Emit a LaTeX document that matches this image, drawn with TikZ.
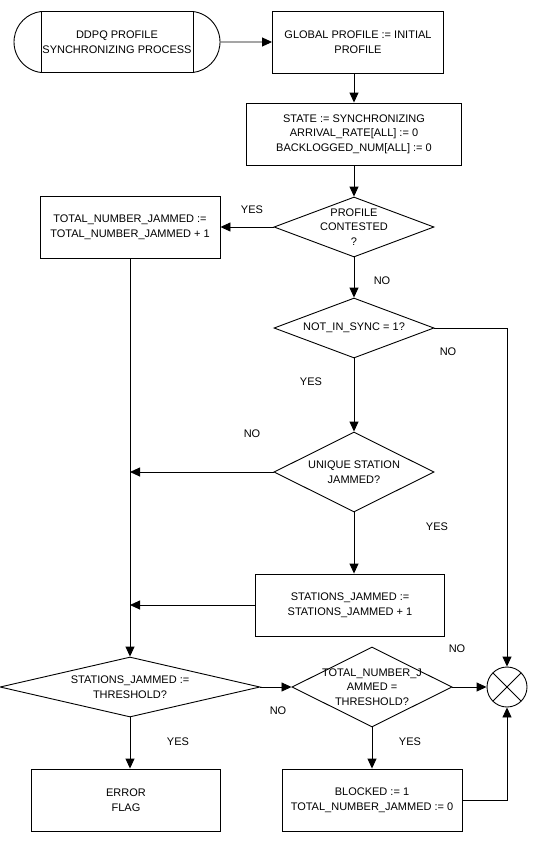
\documentclass[tikz,border=0pt]{standalone}
\usepackage{fontspec}
\setmainfont{Liberation Sans}
\usetikzlibrary{shapes.geometric,shapes.misc,arrows.meta}

\begin{document}
\begin{tikzpicture}[x=1pt, y=1pt, line width=0.9pt, >={Triangle[length=10pt,width=9pt]},
  every node/.style = {font=\fontsize{11}{14.5}\selectfont},
  term/.style = {draw, rounded rectangle, rounded rectangle arc length=166, minimum width=206pt, minimum height=61pt, inner sep=0pt, align=center},
  proc/.style = {draw, rectangle, minimum height=62pt, inner sep=2pt, align=center},
  dec/.style = {draw, diamond, shape aspect=2.67, inner sep=0pt, minimum width=160pt, minimum height=60pt, align=center},
  sum/.style = {draw, circle, minimum size=40pt, inner sep=0pt, path picture={
    \draw (path picture bounding box.north west) -- (path picture bounding box.south east)
          (path picture bounding box.south west) -- (path picture bounding box.north east);}},
  lbl/.style = {inner sep=0pt}]
\useasboundingbox (0,0) rectangle (543,-849);

\node[proc, minimum width=215pt] (3) at (354,-134) {STATE := SYNCHRONIZING\\ARRIVAL\_RATE[ALL] := 0\\BACKLOGGED\_NUM[ALL] := 0};
\node[proc, minimum width=171pt] (2) [above of=3, node distance=92pt, xshift=4pt] {GLOBAL PROFILE := INITIAL\\PROFILE};
\node[term] (1) [left of=2, node distance=241pt] {DDPQ PROFILE\\SYNCHRONIZING PROCESS};
\draw (1.north west) -- (1.south west) (1.north east) -- (1.south east);
\node[dec, inner sep=-3pt] (4) [below of=3, node distance=93pt] {PROFILE\\CONTESTED\\?};
\node[proc, minimum width=180pt] (5) [left of=4, node distance=224pt] {TOTAL\_NUMBER\_JAMMED :=\\TOTAL\_NUMBER\_JAMMED + 1};
\node[dec] (6) [below of=4, node distance=101pt] {NOT\_IN\_SYNC = 1?};
\node[dec, shape aspect=2, minimum height=80pt] (7) [below of=6, node distance=144pt] {UNIQUE STATION\\JAMMED?};
\node[proc, minimum width=189pt] (8) [below of=7, node distance=133pt, xshift=-4pt] {STATIONS\_JAMMED :=\\STATIONS\_JAMMED + 1};
\node[dec, shape aspect=4.33, minimum width=260pt] (9) [below of=5, node distance=460pt] {STATIONS\_JAMMED :=\\THRESHOLD?};
\node[dec, shape aspect=2, minimum height=80pt, inner sep=-4pt] (10) [right of=9, node distance=242pt] {TOTAL\_NUMBER\_J\\AMMED =\\THRESHOLD?};
\node[sum] (11) [right of=10, node distance=135pt] {};
\node[proc, minimum width=189pt] (12) [below of=9, node distance=113pt, xshift=-4pt] {ERROR\\FLAG};
\node[proc, minimum width=180pt] (13) [below of=10, node distance=113pt] {BLOCKED := 1\\TOTAL\_NUMBER\_JAMMED := 0};

\node[lbl] (yes1) at (252,-210) {YES};
\node[lbl] (no1) at (382,-281) {NO};
\node[lbl] (no2) at (448,-352) {NO};
\node[lbl] (yes2) at (311,-382) {YES};
\node[lbl] (no3) at (252,-434) {NO};
\node[lbl] (yes3) at (437,-527) {YES};
\node[lbl] (no4) at (457,-649) {NO};
\node[lbl] (no5) at (278,-711) {NO};
\node[lbl] (yes4) at (178,-742) {YES};
\node[lbl] (yes5) at (410,-742) {YES};

\draw[->] (1) -- (2);
\draw[->] (3 |- 2.south) -- (3);
\draw[->] (3) -- (4);
\draw[->] (4) -- (5);
\draw[->] (4) -- (6);
\draw[->] (6) -| (11);
\draw[->] (6) -- (7);
\draw[->] (7) -- (7 -| 5);
\draw[->] (7) -- (7 |- 8.north);
\draw[->] (8) -- (8 -| 5);
\draw[->] (5) -- (9);
\draw[->] (9) -- (10);
\draw[->] (10) -- (11);
\draw[->] (9) -- (9 |- 12.north);
\draw[->] (10) -- (13);
\draw[->] (13) -| (11);
\end{tikzpicture}
\end{document}
